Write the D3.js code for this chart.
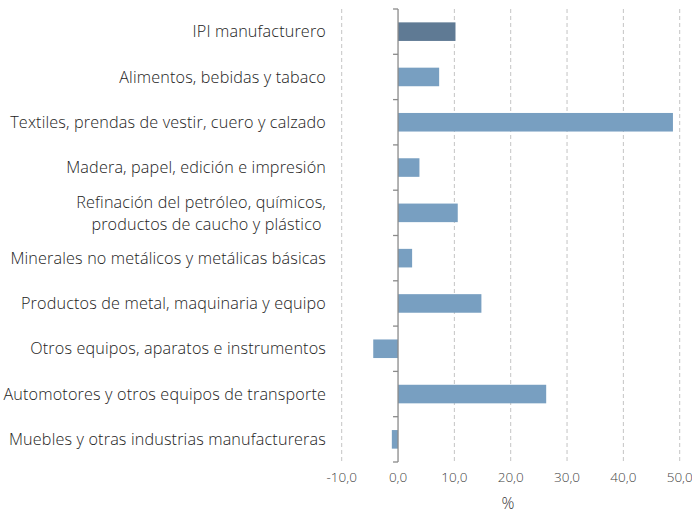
<!DOCTYPE html>
<html><head><meta charset="utf-8">
<script src="https://cdn.jsdelivr.net/npm/d3@7"></script>
<style>body{margin:0;background:#fff}svg{display:block}</style>
</head><body>
<svg id="c" width="692" height="513"></svg>
<script>
const categories = [
  ["IPI manufacturero"],
  ["Alimentos, bebidas y tabaco"],
  ["Textiles, prendas de vestir, cuero y calzado"],
  ["Madera, papel, edición e impresión"],
  ["Refinación del petróleo, químicos,", "productos de caucho y plástico "],
  ["Minerales no metálicos y metálicas básicas"],
  ["Productos de metal, maquinaria y equipo"],
  ["Otros equipos, aparatos e instrumentos"],
  ["Automotores y otros equipos de transporte"],
  ["Muebles y otras industrias manufactureras"]
];
const values = [10.2, 7.3, 48.8, 3.8, 10.6, 2.5, 14.8, -4.4, 26.3, -1.1];
const xTicks = [-10, 0, 10, 20, 30, 40, 50];
const axisTitle = "%";

const svg = d3.select("#c");
const font = "'Open Sans', 'Liberation Sans', Arial, sans-serif";
const pL = 341.7, pR = 679.7, pT = 9, pB = 462;
const x = d3.scaleLinear().domain([-10, 50]).range([pL, pR]);
const y = d3.scaleBand().domain(d3.range(categories.length)).range([pT, pB]).paddingInner(0.59).paddingOuter(0.295);

// gridlines
svg.append("g").selectAll("line").data(xTicks.filter(d => d !== 0)).join("line")
  .attr("x1", d => x(d)).attr("x2", d => x(d)).attr("y1", pT).attr("y2", pB)
  .attr("stroke", "#c4c4c4").attr("stroke-width", 1).attr("stroke-dasharray", "4,3");

// bars
svg.append("g").selectAll("rect").data(values).join("rect")
  .attr("x", d => Math.min(x(0), x(d))).attr("width", d => Math.abs(x(d) - x(0)))
  .attr("y", (d, i) => y(i)).attr("height", y.bandwidth())
  .attr("fill", (d, i) => i === 0 ? "#5f7a94" : "#789fc1");

// zero axis with ticks
const ax = svg.append("g").attr("transform", `translate(${x(0)},0)`);
const yb = d3.scaleLinear().domain([0, categories.length]).range([pT, pB]);
ax.append("line").attr("x1", 0).attr("x2", 0).attr("y1", pT).attr("y2", pB).attr("stroke", "#8a8a8a").attr("stroke-width", 1.3);
ax.selectAll("line.t").data(d3.range(categories.length + 1)).join("line").attr("class", "t")
  .attr("x1", -5).attr("x2", 0).attr("y1", d => yb(d)).attr("y2", d => yb(d))
  .attr("stroke", "#8a8a8a").attr("stroke-width", 1.3);

// category labels
const lab = svg.append("g").attr("font-family", font).attr("font-weight", 300).attr("font-size", 16.2)
  .attr("letter-spacing", 0.15).attr("fill", "#222").attr("text-anchor", "end");
categories.forEach((lines, i) => {
  const cy = y(i) + y.bandwidth() / 2;
  const lh = 22;
  lines.forEach((t, j) => {
    lab.append("text").attr("x", 326).attr("y", cy + (j - (lines.length - 1) / 2) * lh).attr("dy", "0.35em")
      .style("white-space", "pre").text(t);
  });
});

// x tick labels
svg.append("g").attr("font-family", font).attr("font-weight", 300).attr("font-size", 13.5).attr("fill", "#444").attr("text-anchor", "middle")
  .selectAll("text").data(xTicks).join("text")
  .attr("x", d => x(d)).attr("y", 477).attr("dy", "0.35em")
  .text(d => d3.format(".1f")(d).replace(".", ",").replace("\u2212", "-"));

svg.append("text").attr("font-family", font).attr("font-weight", 300).attr("font-size", 16).attr("fill", "#333").attr("text-anchor", "middle")
  .attr("x", 508).attr("y", 503).attr("dy", "0.35em").text(axisTitle);
</script>
</body></html>
